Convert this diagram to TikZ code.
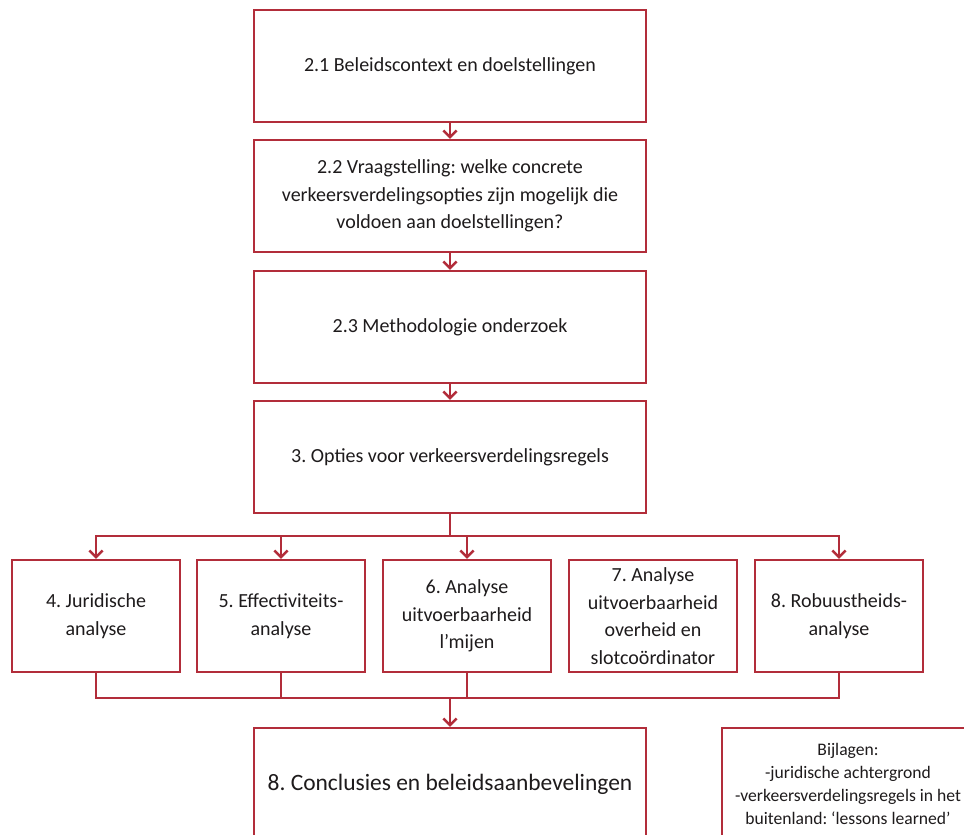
\documentclass[tikz,border=0pt]{standalone}
\usepackage{fontspec}
\setmainfont{Carlito}
\usetikzlibrary{arrows.meta}
\definecolor{boxred}{RGB}{178,45,58}
\definecolor{inkgray}{RGB}{30,27,28}
\frenchspacing
\begin{document}
\begin{tikzpicture}[x=0.75pt, y=-0.75pt,
    >={Straight Barb[length=5pt,width=10pt]},
    box/.style={draw=boxred, line width=1.8pt, fill=white, align=center, inner sep=0pt,
        text=inkgray, font=\fontsize{15}{20.6}\selectfont},
    mainbox/.style={box, minimum width=294pt, minimum height=84pt},
    smallbox/.style={box, minimum width=126pt, minimum height=84pt},
    link/.style={draw=boxred, line width=1.8pt}]
    % 画布范围
    \clip (0,0) rectangle (964,835);
    \fill[white] (0,0) rectangle (964,835);

    % 主流程框
    \node[mainbox] (b21) at (450,66) {2.1 Beleidscontext en doelstellingen};
    \node[mainbox] (b22) at (450,196) {2.2 Vraagstelling: welke concrete\\verkeersverdelingsopties zijn mogelijk die\\voldoen aan doelstellingen?};
    \node[mainbox] (b23) at (450,327) {2.3 Methodologie onderzoek};
    \node[mainbox] (b3) at (450,457) {3. Opties voor verkeersverdelingsregels};

    % 分析框
    \node[smallbox] (b4) at (96,616) {4. Juridische\\analyse};
    \node[smallbox] (b5) at (281,616) {5. Effectiviteits-\\analyse};
    \node[smallbox] (b6) at (467,616) {6. Analyse\\uitvoerbaarheid\\l’mijen};
    \node[smallbox] (b7) at (653,616) {7. Analyse\\uitvoerbaarheid\\overheid en\\slotcoördinator};
    \node[smallbox] (b8) at (839,616) {8. Robuustheids-\\analyse};

    % 结论与附录
    \node[mainbox, font=\fontsize{17.6}{21}\selectfont] (conc) at (450,784) {8. Conclusies en beleidsaanbevelingen};
    \node[box, minimum width=189pt, minimum height=84pt, font=\fontsize{13.2}{17.3}\selectfont] (bijl) at (848,784)
        {Bijlagen:\\-juridische achtergrond\\-verkeersverdelingsregels in het\\buitenland: ‘lessons learned’};

    % 分叉点
    \coordinate (split) at (450,536);
    \coordinate (join) at (450,698);

    % 连线
    \draw[link, ->] (b21) -- (b22);
    \draw[link, ->] (b22) -- (b23);
    \draw[link, ->] (b23) -- (b3);
    \draw[link] (b3) -- (split);
    \draw[link, ->] (split) -| (b4);
    \draw[link, ->] (split) -| (b5);
    \draw[link, ->] (split) -| (b6);
    \draw[link, ->] (split) -| (b8);
    \draw[link] (b4) |- (join);
    \draw[link] (b5) |- (join);
    \draw[link] (b6) |- (join);
    \draw[link] (b8) |- (join);
    \draw[link, ->] (join) -- (conc);
\end{tikzpicture}
\end{document}
